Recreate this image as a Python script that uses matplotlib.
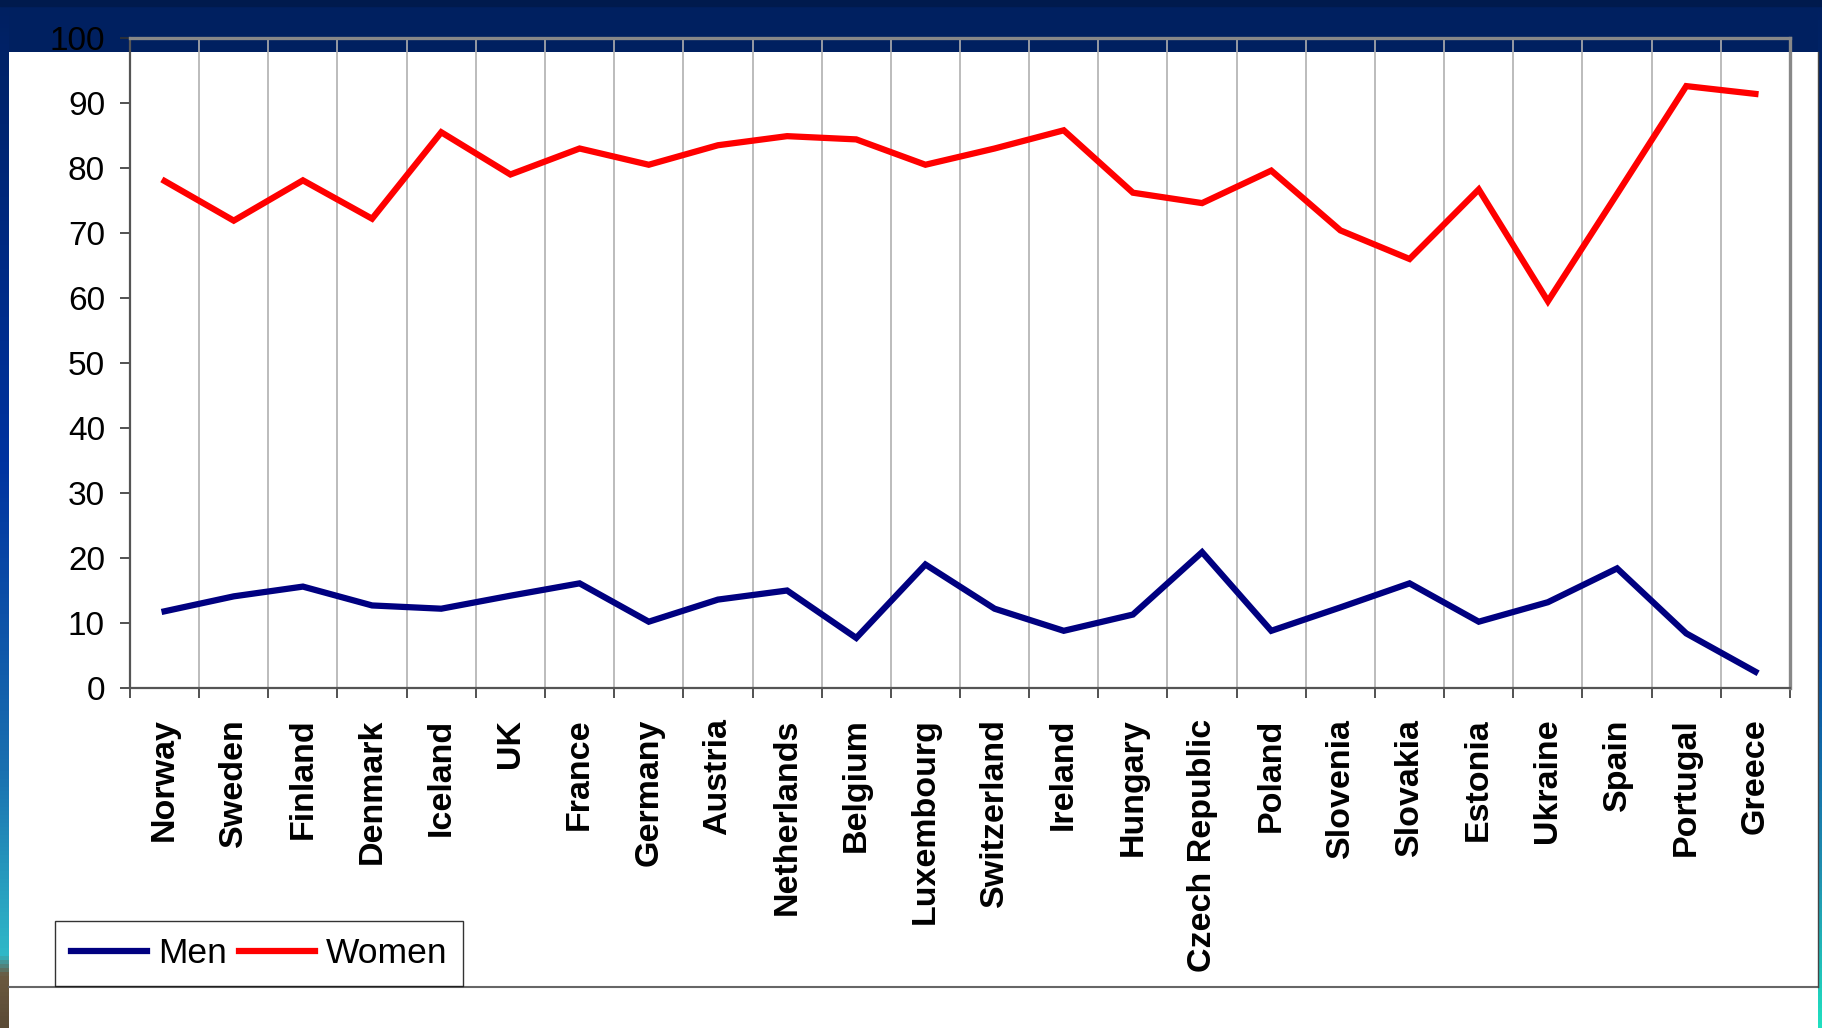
import numpy as np
import matplotlib
matplotlib.use("Agg")
import matplotlib.pyplot as plt
from matplotlib.colors import LinearSegmentedColormap
from matplotlib.patches import Rectangle

plt.rcParams['font.family'] = ['Liberation Sans', 'DejaVu Sans']

countries = ["Norway", "Sweden", "Finland", "Denmark", "Iceland", "UK", "France",
             "Germany", "Austria", "Netherlands", "Belgium", "Luxembourg",
             "Switzerland", "Ireland", "Hungary", "Czech Republic", "Poland",
             "Slovenia", "Slovakia", "Estonia", "Ukraine", "Spain", "Portugal", "Greece"]
men = [11.8, 14.1, 15.6, 12.7, 12.2, 14.2, 16.1, 10.2, 13.6, 15.0, 7.7, 19.0,
       12.2, 8.8, 11.3, 20.9, 8.8, 12.4, 16.1, 10.2, 13.2, 18.4, 8.4, 2.5]
women = [78.0, 71.9, 78.1, 72.2, 85.5, 79.0, 83.0, 80.5, 83.5, 84.9, 84.4, 80.5,
         83.0, 85.8, 76.2, 74.6, 79.6, 70.4, 66.0, 76.7, 59.5, 76.0, 92.6, 91.4]
yticks = [0, 10, 20, 30, 40, 50, 60, 70, 80, 90, 100]

W, H = 1822, 1028
fig = plt.figure(figsize=(W / 100, H / 100), dpi=100)
fig.patch.set_facecolor('#002060')

# background layer in pixel coordinates
bg = fig.add_axes([0, 0, 1, 1], zorder=0)
bg.set_xlim(0, W)
bg.set_ylim(H, 0)
bg.axis('off')
cmap = LinearSegmentedColormap.from_list(
    'strip', [(0, '#002060'), (0.45, '#0033a0'), (0.75, '#1a70b0'),
              (0.93, '#30b8c8'), (0.95, '#6b5a40'), (1, '#5a4a35')])
grad = np.linspace(0, 1, 256).reshape(-1, 1)
bg.imshow(grad, cmap=cmap, extent=[0, 9, H, 0], aspect='auto')
cmap2 = LinearSegmentedColormap.from_list(
    'strip2', [(0, '#002060'), (0.6, '#0040a0'), (0.85, '#2090b0'), (1, '#20e0c0')])
bg.imshow(grad, cmap=cmap2, extent=[1818, W, H, 0], aspect='auto')
bg.add_patch(Rectangle((0, 0), W, 6, color='#001a4d', zorder=1))
bg.add_patch(Rectangle((9, 52), 1809, H - 52, facecolor='white', edgecolor='none', zorder=2))
bg.plot([9, 1818], [987, 987], color='#666666', lw=1.5, zorder=3)
bg.plot([1818, 1818], [52, 987], color='#444444', lw=1.0, zorder=3)

# main axes
x0, x1, ytop, ybot = 130, 1790, 38, 688
ax = fig.add_axes([x0 / W, (H - ybot) / H, (x1 - x0) / W, (ybot - ytop) / H], zorder=2)
ax.patch.set_alpha(0)
n = len(countries)
x = np.arange(n)
ax.plot(x, men, color='#000080', lw=4.5, label='Men', solid_joinstyle='miter', zorder=3)
ax.plot(x, women, color='#ff0000', lw=4.5, label='Women', solid_joinstyle='miter', zorder=3)
ax.set_xlim(-0.5, n - 0.5)
ax.set_ylim(0, 100)
for b in np.arange(0.5, n - 0.5, 1.0):
    ax.axvline(b, color='#b0b0b0', lw=1.2, zorder=1)

ax.set_yticks(yticks)
ax.set_yticklabels([str(v) for v in yticks], fontsize=24)
ax.tick_params(axis='y', length=7, width=1.2, color='#333333', pad=11)
ax.set_xticks(x)
ax.set_xticklabels(countries, rotation=90, fontsize=24.5, fontweight='bold', va='top', ha='center')
ax.tick_params(axis='x', which='major', length=0, pad=22)
ax.set_xticks(np.arange(-0.5, n, 1.0), minor=True)
ax.tick_params(axis='x', which='minor', length=7, width=1.2, color='#333333')

for s in ['left', 'bottom']:
    ax.spines[s].set_color('#555555')
    ax.spines[s].set_linewidth(1.6)
for s in ['top', 'right']:
    ax.spines[s].set_color('#888888')
    ax.spines[s].set_linewidth(2.4)

leg = fig.legend(handles=ax.get_lines(), labels=['Men', 'Women'], ncol=2,
                 loc='lower left', bbox_to_anchor=(55 / W, (H - 986) / H),
                 fontsize=25.5, frameon=True, fancybox=False, handlelength=2.15,
                 handletextpad=0.3, columnspacing=0.35, borderpad=0.45,
                 borderaxespad=0)
leg.get_frame().set_edgecolor('#000000')
leg.get_frame().set_linewidth(1.0)
leg.set_zorder(5)

fig.savefig('out.png', dpi=100, facecolor=fig.get_facecolor())
